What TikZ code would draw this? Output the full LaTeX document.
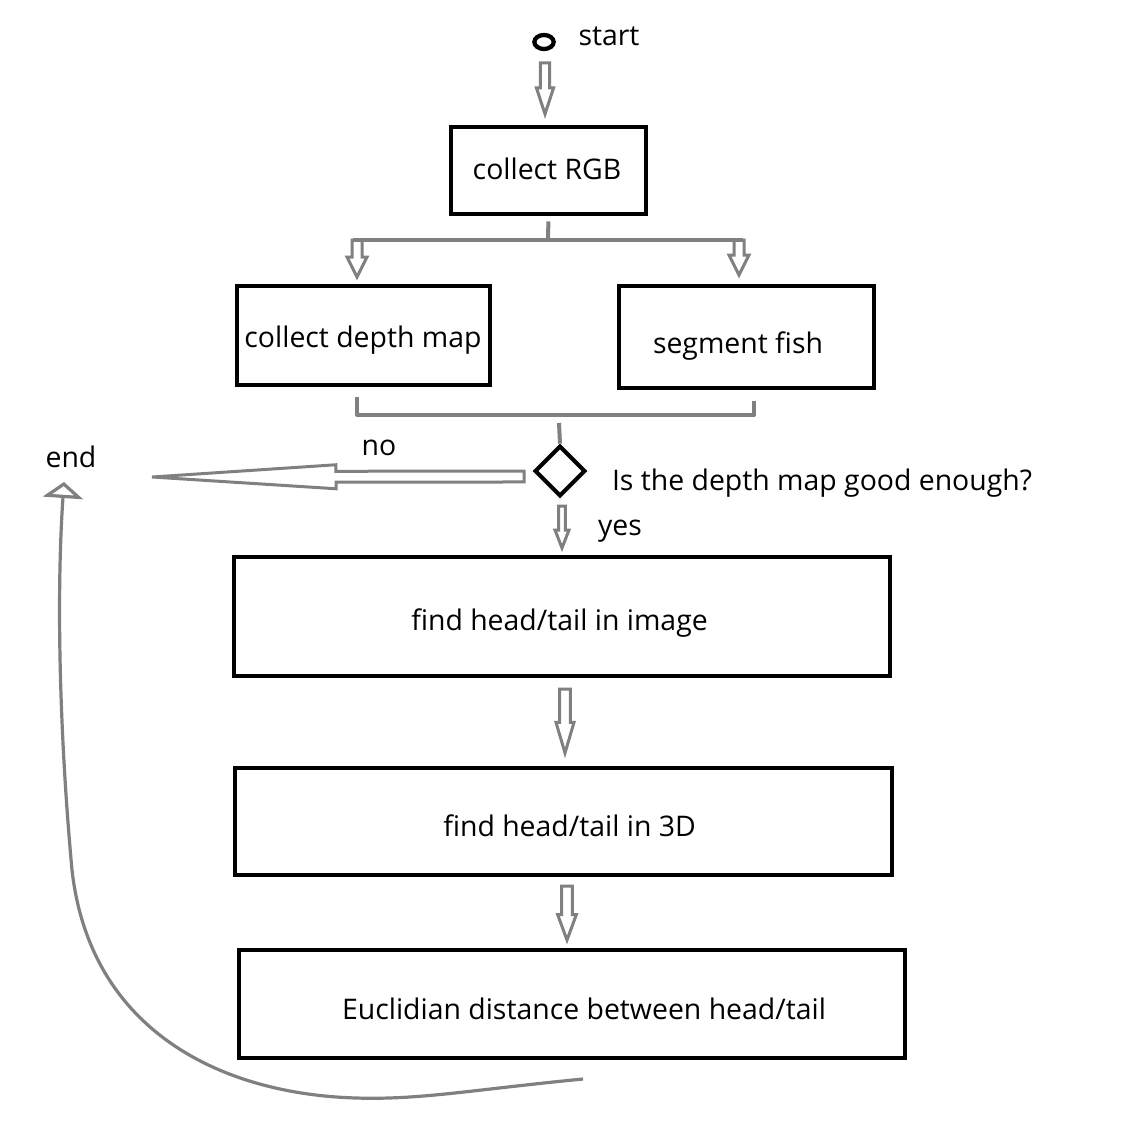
\documentclass[tikz,border=0pt]{standalone}
\usepackage{fontspec}
\setmainfont{Open Sans}
\usetikzlibrary{calc,arrows.meta,shapes.geometric}
\definecolor{arrgray}{RGB}{128,128,128}
\begin{document}
\begin{tikzpicture}[x=0.75pt,y=-0.75pt,
  box/.style={draw=black,line width=3.2pt,rectangle,inner sep=0pt},
  lbl/.style={font=\fontsize{21.3}{25}\selectfont,inner sep=0pt,anchor=base},
  gline/.style={draw=arrgray,line width=3pt},
  barrow/.style n args={3}{draw=arrgray,fill=white,line width=2.25pt,
     to path={($(\tikztostart)!#1!90:(\tikztotarget)$)
       -- ($(\tikztotarget)!#3!(\tikztostart)!#1!90:(\tikztotarget)$)
       -- ($(\tikztotarget)!#3!(\tikztostart)!#2!90:(\tikztotarget)$)
       -- (\tikztotarget)
       -- ($(\tikztotarget)!#3!(\tikztostart)!#2!-90:(\tikztotarget)$)
       -- ($(\tikztotarget)!#3!(\tikztostart)!#1!-90:(\tikztotarget)$)
       -- ($(\tikztostart)!#1!-90:(\tikztotarget)$) -- cycle}},
]
\path[use as bounding box,fill=white] (0,0) rectangle (1130,1145);

% nodes
\node[draw=black,ellipse,line width=3.2pt,inner sep=0pt,minimum width=14.5pt,minimum height=10.5pt] (st) at (544,42) {};
\node[lbl] (stl) at (609,46) {start};

\node[box,minimum width=146.25pt,minimum height=65.25pt] (rgb) at (548.5,170.5) {};
\node[lbl] (rgbl) at (547,180) {collect RGB};

\node[box,minimum width=189.75pt,minimum height=74.25pt] (dep) at (363.5,335.5) {};
\node[lbl] (depl) at (363,347) {collect depth map};

\node[box,minimum width=191.25pt,minimum height=76.5pt] (fish) at (746.5,337) {};
\node[lbl] (fishl) at (738,353) {segment fish};

\node[draw=black,diamond,line width=3pt,inner sep=0pt,minimum width=38pt,minimum height=38pt] (dia) at (560,471) {};
\node[lbl] (q) at (822,490) {Is the depth map good enough?};
\node[lbl] (nol) at (379,455) {no};
\node[lbl] (yesl) at (620,535) {yes};
\node[lbl] (endl) at (71,467) {end};

\node[box,minimum width=492pt,minimum height=89.25pt] (img) at (562,616.5) {};
\node[lbl] (imgl) at (559.5,630) {find head/tail in image};

\node[box,minimum width=492.75pt,minimum height=80.25pt] (td) at (563.5,821.5) {};
\node[lbl] (tdl) at (569.5,836) {find head/tail in 3D};

\node[box,minimum width=499.5pt,minimum height=81pt] (eu) at (572,1004) {};
\node[lbl] (eul) at (584,1019) {Euclidian distance between head/tail};

% coordinates
\coordinate (a1s) at (545,63);
\coordinate (a1e) at (545,114);
\coordinate (jm) at (548,240);
\coordinate (jl) at (357,240);
\coordinate (jr) at (739,240);
\coordinate (jle) at (357,277);
\coordinate (jre) at (739,275);
\coordinate (bl) at (357,397);
\coordinate (blc) at (357,415);
\coordinate (brc) at (754,415);
\coordinate (br) at (754,401);
\coordinate (bs) at (559,423);
\coordinate (nos) at (524,476.5);
\coordinate (noe) at (152,477);
\coordinate (ys) at (562,506);
\coordinate (ye) at (562,548);
\coordinate (a2s) at (565,689);
\coordinate (a2e) at (565,753);
\coordinate (a3s) at (567,886);
\coordinate (a3e) at (567,940);
\coordinate (cs) at (583,1079);
\coordinate (ce) at (64,482);

% block arrows
\draw[barrow={3.4pt}{6.4pt}{19.5pt}] (a1s) to (a1e);
\draw[barrow={3.75pt}{7.5pt}{15pt}] (jl) to (jle);
\draw[barrow={3.75pt}{7.5pt}{15pt}] (jr) to (jre);
\draw[barrow={4.1pt}{9pt}{138pt}] (nos) to (noe);
\draw[barrow={2.6pt}{5.25pt}{13.5pt}] (ys) to (ye);
\draw[barrow={4.1pt}{6.75pt}{23pt}] (a2s) to (a2e);
\draw[barrow={4.1pt}{7pt}{19pt}] (a3s) to (a3e);

% tree and bracket
\draw[gline,shorten <=4pt] (rgb.south) -- (jm);
\draw[gline] ($(jl)+(-4,0)$) -- ($(jr)+(4,0)$);
\draw[gline,line join=round] (bl) -- (blc) -- (brc) -- (br);
\draw[gline] (bs) -- (dia.north);

% loop back to end
\draw[draw=arrgray,line width=2.4pt,-{Triangle[open,length=12pt,width=30pt]}]
  (cs) .. controls (470,1090) and (420,1100) .. (356,1098)
  .. controls (220,1094) and (90,1030) .. (72,870)
  .. controls (60,740) and (56,600) .. (ce);
\end{tikzpicture}
\end{document}
